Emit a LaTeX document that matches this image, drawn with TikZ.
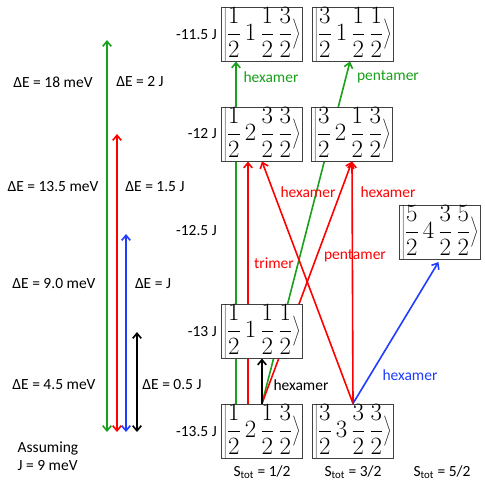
\documentclass[tikz,border=0pt]{standalone}
\usepackage{fontspec}
\setmainfont{Liberation Serif}
\newfontfamily\lblfont{Carlito}
\usepackage{tikz}
\usetikzlibrary{arrows.meta,backgrounds}
\definecolor{grc}{HTML}{1AA01A}
\definecolor{rdc}{HTML}{FF0000}
\definecolor{blc}{HTML}{1F3CFF}
\tikzset{
  ar/.style={-{Straight Barb[length=1.8mm,width=3mm]},line width=1.6pt},
  dar/.style={{Straight Barb[length=1.8mm,width=3mm]}-{Straight Barb[length=1.8mm,width=3mm]},line width=1.6pt},
  ket/.style={draw=black!75,line width=1pt,fill=white,inner xsep=2pt,inner ysep=0pt,font=\fontsize{24.5}{29}\selectfont},
  lbl/.style={font=\lblfont\fontsize{15.5}{18}\selectfont,inner sep=1pt}
}
\newcommand{\kt}[4]{$\displaystyle\left|\frac{#1}{2}\,#2\,\frac{#3}{2}\,\frac{#4}{2}\right\rangle$}

\begin{document}
\begin{tikzpicture}[x=1pt,y=-1pt]
\useasboundingbox (0,0) rectangle (485,491);
% states
\node[ket] (ka) at (262,34) {\kt1{1}13};
\node[ket] (kb) at (353,34) {\kt3{1}11};
\node[ket] (kc) at (262,134) {\kt1{2}33};
\node[ket] (kd) at (352,134) {\kt3{2}13};
\node[ket] (ke) at (440,232) {\kt5{4}35};
\node[ket] (kf) at (262,331) {\kt1{1}11};
\node[ket] (kg) at (262,431) {\kt1{2}13};
\node[ket] (kh) at (353,431) {\kt3{3}33};
% energy levels
\node[lbl,anchor=east] (e1) at (218,35) {-11.5 J};
\node[lbl,anchor=east] (e2) at (218,134) {-12 J};
\node[lbl,anchor=east] (e3) at (218,231) {-12.5 J};
\node[lbl,anchor=east] (e4) at (218,332) {-13 J};
\node[lbl,anchor=east] (e5) at (218,432) {-13.5 J};
\node[lbl] (s1) at (262,472) {S\textsubscript{tot} = 1/2};
\node[lbl] (s2) at (353,472) {S\textsubscript{tot} = 3/2};
\node[lbl] (s3) at (442,472) {S\textsubscript{tot} = 5/2};
% transitions
\begin{scope}[on background layer]
\draw[ar,grc] ([xshift=-26pt]kg.north) -- ([xshift=-26pt]ka.south);
\draw[ar,grc] (kg.north) -- ([xshift=-3pt]kb.south);
\draw[ar,rdc] ([xshift=-14pt]kg.north) -- ([xshift=-14pt]kc.south);
\draw[ar,rdc] (kh.north) -- (kc.south);
\draw[ar,rdc] (kg.north) -- (kd.south);
\draw[ar,rdc] (kh.north) -- (kd.south);
\draw[ar,blc,shorten >=3pt] (kh.north) -- (ke.south);
\draw[ar] (kg.north) -- (kf.south);
\end{scope}
\node[lbl,grc] (h1) at (271,77) {hexamer};
\node[lbl,grc] (p1) at (388,77) {pentamer};
\node[lbl,rdc] (h2) at (308,192) {hexamer};
\node[lbl,rdc] (h3) at (388,192) {hexamer};
\node[lbl,rdc] (t1) at (274,263) {trimer};
\node[lbl,rdc] (p2) at (355,256) {pentamer};
\node[lbl] (h4) at (301,385) {hexamer};
\node[lbl,blc] (h5) at (410,375) {hexamer};
% gaps
\coordinate (g0) at (107,432); \coordinate (g1) at (107,40);
\coordinate (r0) at (117,432); \coordinate (r1) at (117,134);
\coordinate (b0) at (126,432); \coordinate (b1) at (126,234);
\coordinate (k0) at (137,432); \coordinate (k1) at (137,332);
\draw[dar,grc] (g0) -- (g1);
\draw[dar,rdc] (r0) -- (r1);
\draw[dar,blc] (b0) -- (b1);
\draw[dar] (k0) -- (k1);
\node[lbl] (d1) at (53,82) {ΔE = 18 meV};
\node[lbl] (d2) at (140,82) {ΔE = 2 J};
\node[lbl] (d3) at (53,187) {ΔE = 13.5 meV};
\node[lbl] (d4) at (155,187) {ΔE = 1.5 J};
\node[lbl] (d5) at (54,284) {ΔE = 9.0 meV};
\node[lbl] (d6) at (153,284) {ΔE = J};
\node[lbl] (d7) at (54,385) {ΔE = 4.5 meV};
\node[lbl] (d8) at (172,385) {ΔE = 0.5 J};
\node[lbl,align=left] (as) at (48,456) {Assuming\\J = 9 meV};
\end{tikzpicture}
\end{document}
